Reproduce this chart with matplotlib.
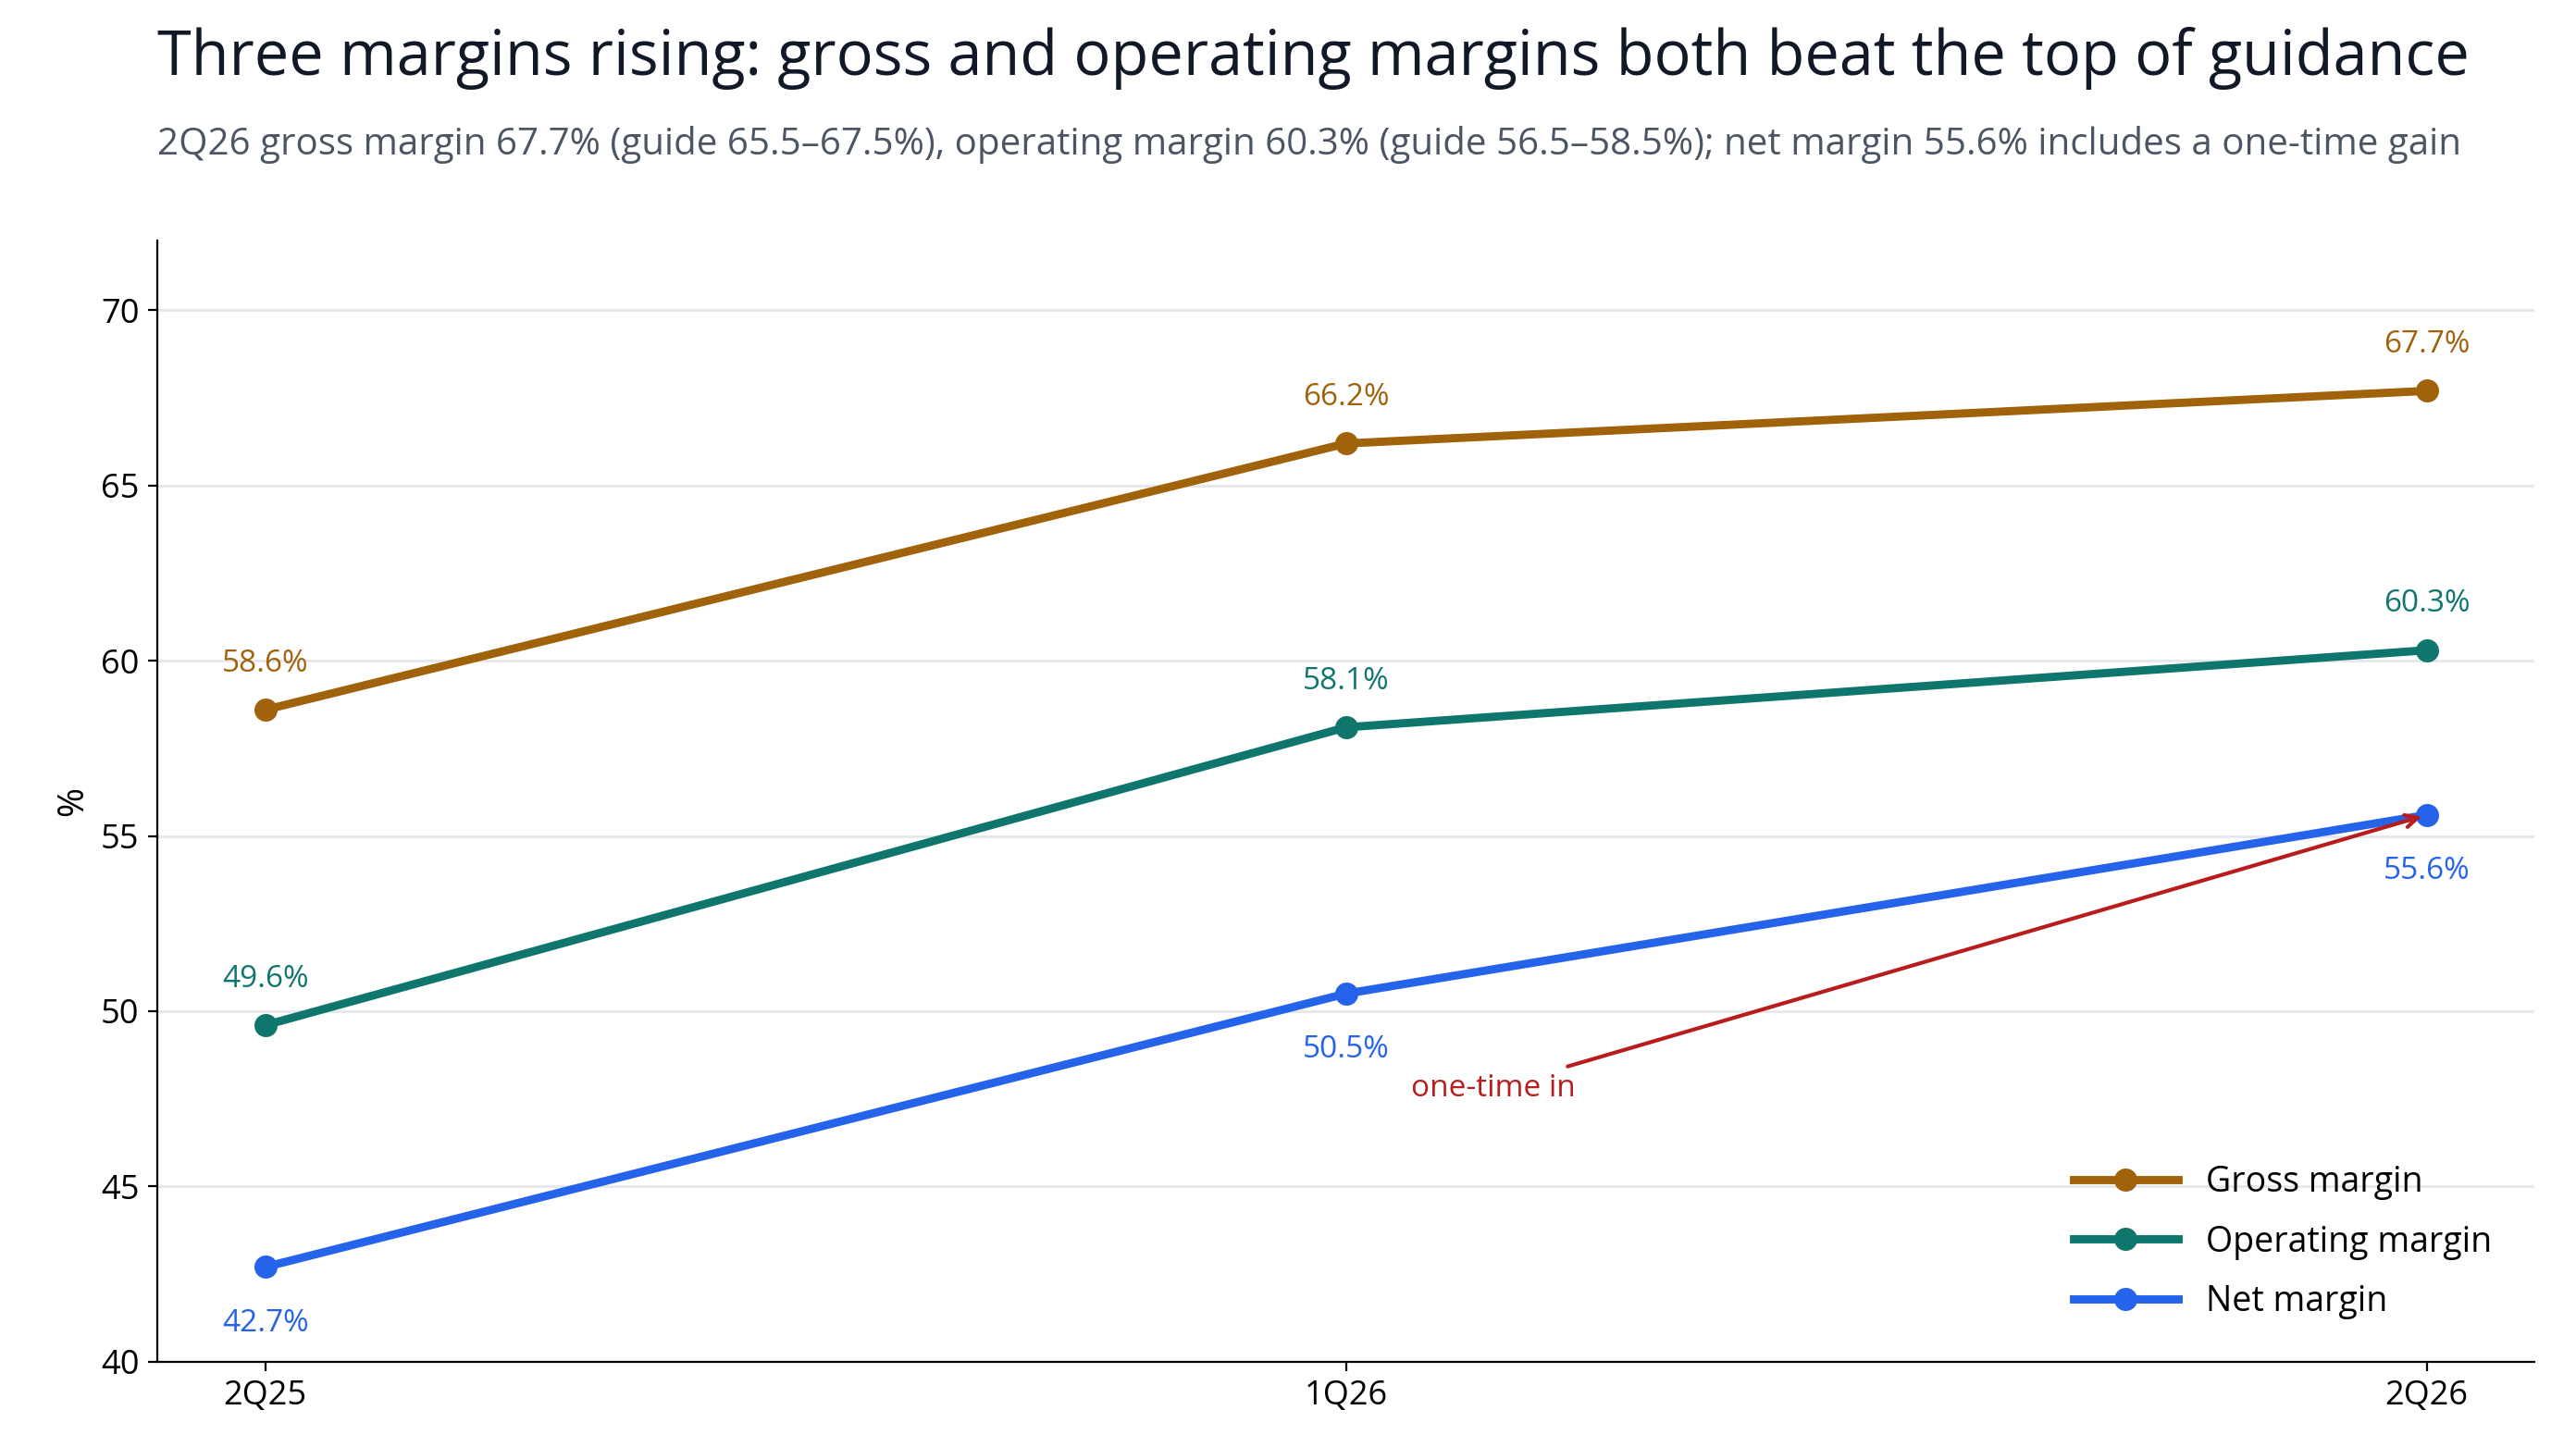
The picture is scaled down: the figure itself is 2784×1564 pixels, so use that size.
import matplotlib
matplotlib.use('Agg')
import matplotlib.pyplot as plt

quarters = ['2Q25', '1Q26', '2Q26']
gross = [58.6, 66.2, 67.7]
operating = [49.6, 58.1, 60.3]
net = [42.7, 50.5, 55.6]

plt.rcParams['font.family'] = ['Open Sans', 'DejaVu Sans']

fig = plt.figure(figsize=(13.92, 7.82), dpi=200)
ax = fig.add_axes([0.061, 0.059, 0.923, 0.775])

x = list(range(len(quarters)))
series = [
    ('Gross margin', gross, '#A0620A', 12),
    ('Operating margin', operating, '#0F766E', 12),
    ('Net margin', net, '#2563EB', -16),
]
for name, vals, col, off in series:
    ax.plot(x, vals, color=col, lw=3.2, marker='o', ms=8, label=name)
    for xi, v in zip(x, vals):
        ax.annotate(f'{v:.1f}%', (xi, v), xytext=(0, off), textcoords='offset points',
                    ha='center', va='bottom' if off > 0 else 'top', color=col, fontsize=12)

ax.annotate('one-time in', xy=(2, 55.6), xytext=(1.06, 47.8), color='#B91C1C', fontsize=12,
            ha='left', va='center',
            arrowprops=dict(arrowstyle='->', color='#B91C1C', lw=1.5))

ax.set_xlim(-0.1, 2.1)
ax.set_ylim(40, 72)
ax.set_xticks(x)
ax.set_xticklabels(quarters)
ax.set_yticks([40, 45, 50, 55, 60, 65, 70])
ax.tick_params(labelsize=13)
ax.set_ylabel('%', fontsize=14)
ax.yaxis.grid(True, color='#E5E7EB', lw=1)
ax.set_axisbelow(True)
for s in ['top', 'right']:
    ax.spines[s].set_visible(False)

ax.legend(loc='lower right', frameon=False, fontsize=13.5, handlelength=3, labelspacing=0.7,
          bbox_to_anchor=(0.995, 0.01))

fig.text(0.061, 0.96, 'Three margins rising: gross and operating margins both beat the top of guidance',
         fontsize=24, color='#111827', va='center')
fig.text(0.061, 0.90, '2Q26 gross margin 67.7% (guide 65.5–67.5%), operating margin 60.3% (guide 56.5–58.5%); net margin 55.6% includes a one-time gain',
         fontsize=14.5, color='#4B5563', va='center')

fig.savefig('out.png')
